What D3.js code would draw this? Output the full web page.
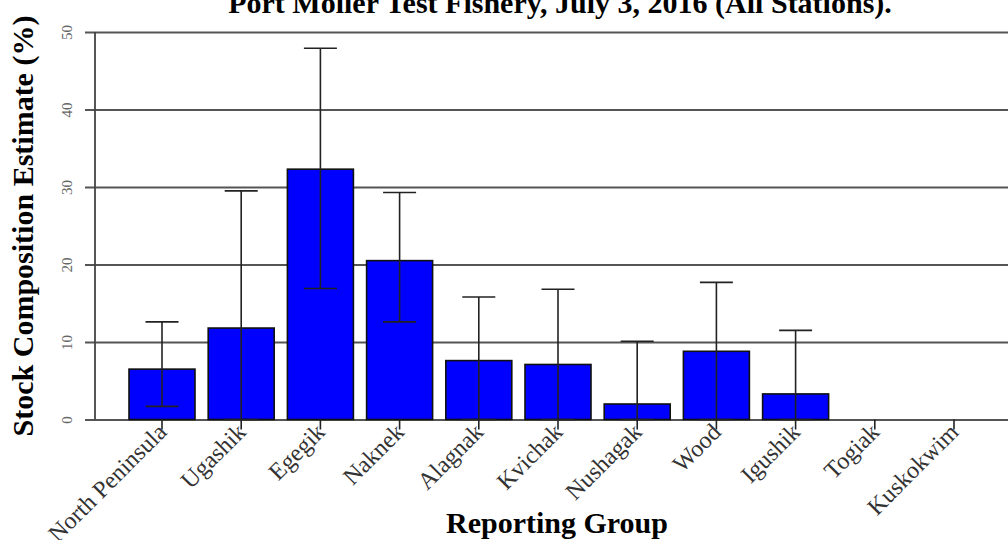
<!DOCTYPE html>
<html>
<head>
<meta charset="utf-8">
<script src="https://cdn.jsdelivr.net/npm/d3@7"></script>
<style>
  html, body { margin: 0; padding: 0; background: #fff; }
  svg { display: block; font-family: "Liberation Serif", "Times New Roman", serif; }
</style>
</head>
<body>
<svg id="chart" width="1008" height="540"></svg>
<script>
// ---- data ----
const categories = ["North Peninsula", "Ugashik", "Egegik", "Naknek", "Alagnak", "Kvichak",
                    "Nushagak", "Wood", "Igushik", "Togiak", "Kuskokwim"];
const estimates = [6.5, 11.8, 32.3, 20.5, 7.6, 7.1, 2.0, 8.8, 3.3, 0, 0];
const lowerCI   = [1.7, 0, 16.9, 12.6, 0, 0, 0, 0, 0, 0, 0];
const upperCI   = [12.6, 29.5, 47.9, 29.3, 15.8, 16.8, 10.1, 17.7, 11.5, 0, 0];
const yTicks = [0, 10, 20, 30, 40, 50];
const titleText = "Port Moller Test Fishery, July 3, 2016 (All Stations).";
const xTitle = "Reporting Group";
const yTitle = "Stock Composition Estimate (%)";

// ---- layout ----
const W = 1008, H = 540;
const axisX = 95;
const svg = d3.select("#chart");

const x = d3.scaleBand().domain(categories).range([129, 987]).paddingInner(1/6).paddingOuter(0);
const y = d3.scaleLinear().domain([0, 50]).range([419.5, 32]);

// gridlines + y axis
const yAxis = d3.axisLeft(y).tickValues(yTicks).tickSizeInner(-(W - axisX)).tickSizeOuter(0);
const gy = svg.append("g").attr("transform", `translate(${axisX},0)`).call(yAxis);
gy.select(".domain").remove();
gy.selectAll(".tick line")
  .attr("x1", -10)
  .attr("stroke", "#555")
  .attr("stroke-width", 2);
gy.selectAll(".tick text")
  .attr("transform", "rotate(-90)")
  .attr("x", 0).attr("y", -23).attr("dy", 0)
  .attr("text-anchor", "middle")
  .attr("fill", "#666")
  .attr("font-size", 15)
  .attr("font-family", "Liberation Serif, serif");

// y axis vertical line
svg.append("line")
  .attr("x1", axisX).attr("x2", axisX)
  .attr("y1", y(0)).attr("y2", y(50))
  .attr("stroke", "#444").attr("stroke-width", 1.8);

// bars
svg.append("g").selectAll("rect")
  .data(categories)
  .join("rect")
  .attr("x", d => x(d))
  .attr("width", x.bandwidth())
  .attr("y", (d, i) => y(estimates[i]))
  .attr("height", (d, i) => y(0) - y(estimates[i]))
  .attr("fill", "#0000FF")
  .attr("stroke", "#111")
  .attr("stroke-width", 1.6);

// x axis ticks & labels
const xAxis = d3.axisBottom(x).tickSizeInner(10).tickSizeOuter(0).tickPadding(0);
const gx = svg.append("g").attr("transform", `translate(0,${y(0)})`).call(xAxis);
gx.select(".domain").remove();
gx.selectAll(".tick line").attr("stroke", "#222").attr("stroke-width", 1.6);
gx.selectAll(".tick text")
  .attr("transform", "translate(0,8) rotate(-45)")
  .attr("x", 0).attr("y", 0).attr("dy", "0.35em")
  .attr("text-anchor", "end")
  .attr("fill", "#333")
  .attr("font-size", 24)
  .attr("font-family", "Liberation Serif, serif");

// error bars
const capHalf = x.bandwidth() / 4;
const eb = svg.append("g").attr("stroke", "#222").attr("stroke-width", 1.6);
categories.forEach((c, i) => {
  const cx = x(c) + x.bandwidth() / 2;
  if (upperCI[i] === 0 && lowerCI[i] === 0) return;
  eb.append("line").attr("x1", cx).attr("x2", cx).attr("y1", y(lowerCI[i])).attr("y2", y(upperCI[i]));
  eb.append("line").attr("x1", cx - capHalf).attr("x2", cx + capHalf).attr("y1", y(upperCI[i])).attr("y2", y(upperCI[i]));
  eb.append("line").attr("x1", cx - capHalf).attr("x2", cx + capHalf).attr("y1", y(lowerCI[i])).attr("y2", y(lowerCI[i]));
});

// titles
svg.append("text")
  .attr("x", 560).attr("y", 13)
  .attr("text-anchor", "middle")
  .attr("font-weight", "bold").attr("font-size", 30)
  .attr("fill", "#000")
  .text(titleText);

svg.append("text")
  .attr("x", 557).attr("y", 533)
  .attr("text-anchor", "middle")
  .attr("font-weight", "bold").attr("font-size", 30)
  .attr("fill", "#000")
  .text(xTitle);

svg.append("text")
  .attr("transform", "translate(33,226) rotate(-90)")
  .attr("text-anchor", "middle")
  .attr("font-weight", "bold").attr("font-size", 30)
  .attr("fill", "#000")
  .text(yTitle);
</script>
</body>
</html>
